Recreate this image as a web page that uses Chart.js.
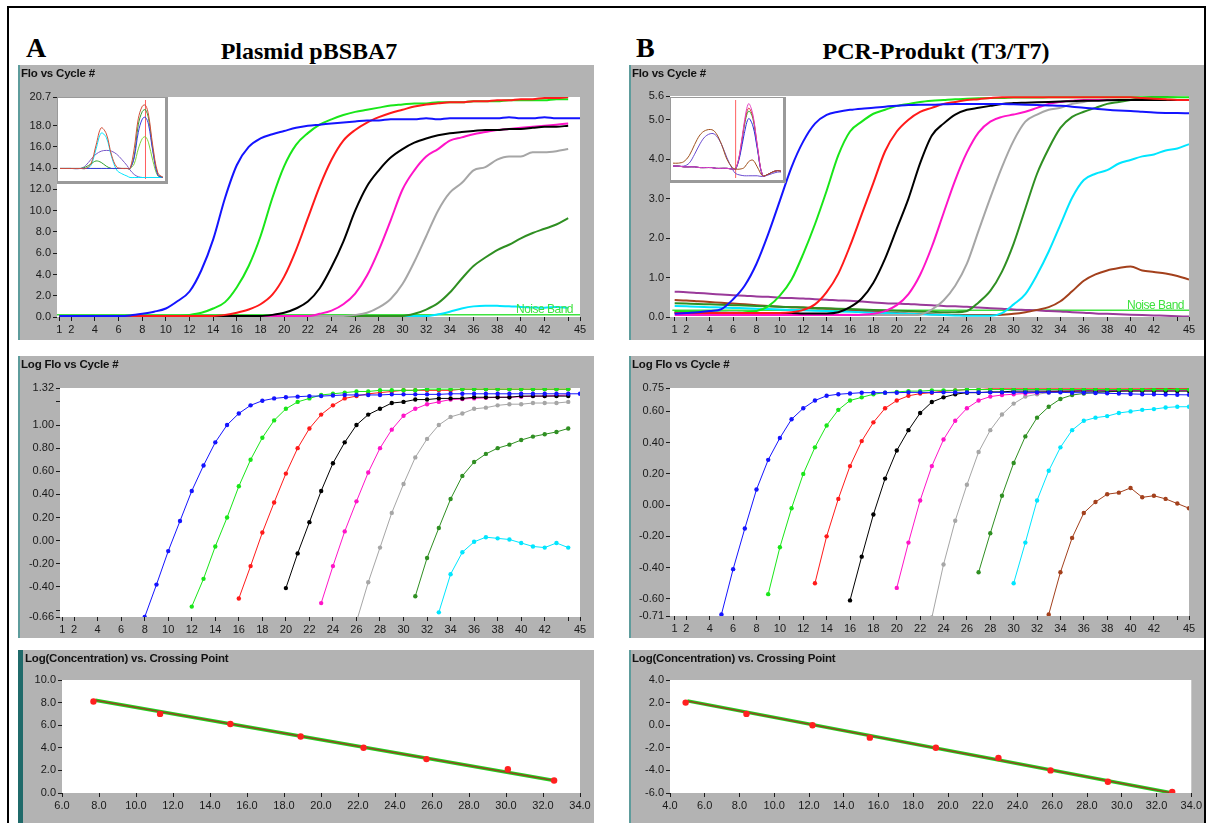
<!DOCTYPE html>
<html>
<head>
<meta charset="utf-8">
<script src="https://cdn.jsdelivr.net/npm/chart.js@4.4.1/dist/chart.umd.min.js"></script>
<style>
body { margin: 0; width: 1214px; height: 823px; overflow: hidden; background: #fff; position: relative; }
.frame { position: absolute; left: 7px; top: 6px; width: 1195px; height: 840px; border: 2px solid #000; border-bottom: none; }
.head { position: absolute; font-family: "Liberation Serif", "Times New Roman", serif; font-weight: bold; color: #000; white-space: nowrap; line-height: 28px; }
.panel { position: absolute; background: #b3b3b3; box-shadow: inset 2px 0 0 #5e9c9c; overflow: hidden; }
.panel canvas { position: absolute; left: 0; top: 0; }
.ptitle { position: absolute; left: 3px; top: 2px; font: bold 11.5px "Liberation Sans", Arial, sans-serif; color: #111; letter-spacing: -0.2px; }
.inset { position: absolute; background: #fff; border: 1px solid #9a9a9a; border-right-width: 3px; border-bottom-width: 3px; box-sizing: border-box; }
.inset canvas { position: absolute; left: 0; top: 0; }
.noise { position: absolute; color: #3fe23f; font: 12px "Liberation Sans", Arial, sans-serif; letter-spacing: -0.5px; }
</style>
</head>
<body>
<div class="frame"></div>
<div class="head" style="left:26px; top:34px; font-size:28px;">A</div>
<div class="head" style="left:159px; top:37px; width:300px; text-align:center; font-size:24px;">Plasmid pBSBA7</div>
<div class="head" style="left:636px; top:34px; font-size:28px;">B</div>
<div class="head" style="left:786px; top:37px; width:300px; text-align:center; font-size:24px;">PCR-Produkt (T3/T7)</div>

<div class="panel" style="left:18px; top:65px; width:576px; height:275px;">
  <canvas id="aFlo" width="576" height="275"></canvas>
  <div class="ptitle">Flo vs Cycle #</div>
  <div class="inset" style="left:39px; top:32px; width:111px; height:87px;"><canvas id="aMelt" width="107" height="83"></canvas></div>
</div>
<div class="noise" style="left:516px; top:302px;">Noise Band</div>

<div class="panel" style="left:18px; top:356px; width:576px; height:282px;">
  <canvas id="aLog" width="576" height="282"></canvas>
  <div class="ptitle">Log Flo vs Cycle #</div>
</div>

<div class="panel" style="left:18px; top:650px; width:576px; height:180px; box-shadow: inset 5px 0 0 #1f6a6a;">
  <canvas id="aStd" width="576" height="180"></canvas>
  <div class="ptitle" style="left:7px;">Log(Concentration) vs. Crossing Point</div>
</div>

<div class="panel" style="left:629px; top:65px; width:575px; height:275px;">
  <canvas id="bFlo" width="575" height="275"></canvas>
  <div class="ptitle">Flo vs Cycle #</div>
  <div class="inset" style="left:41px; top:32px; width:116px; height:86px;"><canvas id="bMelt" width="112" height="82"></canvas></div>
</div>
<div class="noise" style="left:1127px; top:298px;">Noise Band</div>

<div class="panel" style="left:629px; top:356px; width:575px; height:282px;">
  <canvas id="bLog" width="575" height="282"></canvas>
  <div class="ptitle">Log Flo vs Cycle #</div>
</div>

<div class="panel" style="left:629px; top:650px; width:575px; height:180px;">
  <canvas id="bStd" width="575" height="180"></canvas>
  <div class="ptitle">Log(Concentration) vs. Crossing Point</div>
</div>

<script>
const colors = {
    blue: '#1414ff', green: '#19e619', red: '#ff1a1a', black: '#000000', magenta: '#ff14c8',
    gray: '#a6a6a6', dkgreen: '#2f8f22', cyan: '#00e6ff', brown: '#a3401c', purple: '#9a3a9a'
};

const cycleTicks = [1, 2, 4, 6, 8, 10, 12, 14, 16, 18, 20, 22, 24, 26, 28, 30, 32, 34, 36, 38, 40, 42, 44, 45];

// A: Plasmid pBSBA7, fluorescence per cycle (starting at cycle 1)
const aFloBlue = [0.1, 0.1, 0.1, 0.1, 0.1, 0.1, 0.15, 0.3, 0.5, 0.8, 1.5, 2.4, 4.4, 7.3, 11.2, 14.3, 16.0, 16.8, 17.2, 17.5, 17.8, 18.0, 18.1, 18.2, 18.3, 18.4, 18.5, 18.5, 18.6, 18.6, 18.6, 18.7, 18.6, 18.7, 18.7, 18.7, 18.7, 18.7, 18.8, 18.7, 18.7, 18.8, 18.7, 18.7, 18.7];
const aFloGreen = [0.1, 0.1, 0.1, 0.1, 0.1, 0.1, 0.1, 0.1, 0.1, 0.1, 0.1, 0.2, 0.4, 0.8, 1.4, 2.8, 4.8, 7.6, 11.2, 14.2, 16.2, 17.3, 18.1, 18.6, 19.0, 19.3, 19.5, 19.7, 19.9, 20.0, 20.1, 20.1, 20.2, 20.2, 20.2, 20.3, 20.3, 20.3, 20.4, 20.4, 20.4, 20.4, 20.5, 20.5];
const aFloRed = [0.1, 0.1, 0.1, 0.1, 0.1, 0.1, 0.1, 0.1, 0.1, 0.1, 0.1, 0.1, 0.1, 0.1, 0.2, 0.4, 0.7, 1.2, 2.1, 3.8, 6.3, 9.3, 12.3, 14.8, 16.6, 17.6, 18.3, 18.8, 19.2, 19.5, 19.8, 20.0, 20.1, 20.2, 20.2, 20.3, 20.3, 20.4, 20.4, 20.5, 20.5, 20.6, 20.6, 20.7];
const aFloBlack = [0.1, 0.1, 0.1, 0.1, 0.1, 0.1, 0.1, 0.1, 0.1, 0.1, 0.1, 0.1, 0.1, 0.1, 0.1, 0.1, 0.1, 0.1, 0.2, 0.4, 0.8, 1.45, 2.7, 4.7, 7.1, 10.0, 12.3, 13.8, 15.0, 15.8, 16.4, 16.8, 17.1, 17.3, 17.4, 17.5, 17.6, 17.6, 17.7, 17.7, 17.8, 17.9, 17.9, 18.0];
const aFloMagenta = [0.1, 0.1, 0.1, 0.1, 0.1, 0.1, 0.1, 0.1, 0.1, 0.1, 0.1, 0.1, 0.1, 0.1, 0.1, 0.1, 0.1, 0.1, 0.1, 0.1, 0.1, 0.1, 0.3, 0.6, 1.2, 2.2, 3.9, 6.3, 9.1, 12.0, 13.8, 15.1, 15.8, 16.6, 16.9, 17.2, 17.4, 17.6, 17.7, 17.8, 17.9, 18.0, 18.1, 18.2];
const aFloGray = [0.1, 0.1, 0.1, 0.1, 0.1, 0.1, 0.1, 0.1, 0.1, 0.1, 0.1, 0.1, 0.1, 0.1, 0.1, 0.1, 0.1, 0.1, 0.1, 0.1, 0.1, 0.1, 0.1, 0.1, 0.1, 0.2, 0.4, 0.9, 1.7, 3.1, 5.2, 7.6, 10.0, 11.7, 12.6, 13.8, 14.1, 14.8, 15.1, 15.1, 15.5, 15.5, 15.6, 15.8];
const aFloDkGreen = [0.1, 0.1, 0.1, 0.1, 0.1, 0.1, 0.1, 0.1, 0.1, 0.1, 0.1, 0.1, 0.1, 0.1, 0.1, 0.1, 0.1, 0.1, 0.1, 0.1, 0.1, 0.1, 0.1, 0.1, 0.1, 0.1, 0.1, 0.1, 0.1, 0.1, 0.3, 0.7, 1.3, 2.3, 3.6, 4.8, 5.6, 6.3, 6.8, 7.4, 7.9, 8.3, 8.7, 9.3];
const aFloCyan = [0.1, 0.1, 0.1, 0.1, 0.1, 0.1, 0.1, 0.1, 0.1, 0.1, 0.1, 0.1, 0.1, 0.1, 0.1, 0.1, 0.1, 0.1, 0.1, 0.1, 0.1, 0.1, 0.1, 0.1, 0.1, 0.1, 0.1, 0.1, 0.1, 0.1, 0.1, 0.1, 0.25, 0.5, 0.8, 1.0, 1.07, 1.05, 1.02, 0.95, 0.9, 0.87, 0.95, 0.87];
const aNoiseLevel = 0.2;
const aFloTicks = [0, 2, 4, 6, 8, 10, 12, 14, 16, 18, 20.7];

// A: log fluorescence, each series starts at the cycle given in aLogStart
const aLogStart = { blue: 7, green: 12, red: 16, black: 20, magenta: 23, gray: 26, dkgreen: 31, cyan: 33 };
const aLogBlue = [-0.95, -0.66, -0.38, -0.09, 0.17, 0.43, 0.65, 0.85, 1.00, 1.10, 1.17, 1.21, 1.23, 1.24, 1.245, 1.25, 1.25, 1.255, 1.26, 1.26, 1.26, 1.26, 1.265, 1.265, 1.265, 1.265, 1.265, 1.27, 1.27, 1.27, 1.27, 1.27, 1.27, 1.27, 1.27, 1.27, 1.27, 1.27, 1.27];
const aLogGreen = [-0.57, -0.33, -0.05, 0.20, 0.47, 0.70, 0.89, 1.04, 1.14, 1.20, 1.23, 1.26, 1.27, 1.28, 1.29, 1.29, 1.30, 1.30, 1.30, 1.30, 1.31, 1.31, 1.31, 1.31, 1.31, 1.31, 1.31, 1.31, 1.31, 1.31, 1.31, 1.31, 1.31];
const aLogRed = [-0.50, -0.22, 0.07, 0.33, 0.58, 0.80, 0.97, 1.09, 1.17, 1.23, 1.25, 1.27, 1.28, 1.29, 1.30, 1.30, 1.30, 1.30, 1.30, 1.31, 1.31, 1.31, 1.31, 1.31, 1.31, 1.31, 1.31, 1.31, 1.31];
const aLogBlack = [-0.41, -0.11, 0.16, 0.43, 0.67, 0.85, 1.00, 1.09, 1.14, 1.19, 1.20, 1.22, 1.22, 1.23, 1.23, 1.23, 1.24, 1.24, 1.24, 1.24, 1.25, 1.25, 1.25, 1.25, 1.25];
const aLogMagenta = [-0.54, -0.22, 0.08, 0.34, 0.59, 0.80, 0.96, 1.08, 1.14, 1.18, 1.20, 1.22, 1.225, 1.23, 1.235, 1.24, 1.24, 1.245, 1.25, 1.25, 1.255, 1.26];
const aLogGray = [-0.70, -0.36, -0.06, 0.24, 0.49, 0.72, 0.88, 1.00, 1.07, 1.10, 1.14, 1.15, 1.17, 1.18, 1.18, 1.19, 1.19, 1.19, 1.20];
const aLogDkGreen = [-0.48, -0.15, 0.11, 0.36, 0.56, 0.68, 0.75, 0.80, 0.83, 0.87, 0.90, 0.92, 0.94, 0.97];
const aLogCyan = [-0.62, -0.29, -0.10, -0.01, 0.03, 0.02, 0.01, -0.02, -0.05, -0.06, -0.02, -0.06];
const aLogTicks = [-0.66, -0.6, -0.4, -0.2, 0, 0.2, 0.4, 0.6, 0.8, 1.0, 1.2, 1.32];

// A: standard curve
const aCrossPoint = [7.7, 11.3, 15.1, 18.9, 22.3, 25.7, 30.1, 32.6];
const aLogConc = [8.1, 7.0, 6.1, 5.0, 4.0, 3.0, 2.1, 1.1];
const aFitX = [7.8, 32.6];
const aFitY = [8.2, 1.1];

// B: PCR product, fluorescence per cycle (starting at cycle 1)
const bFloBlue = [0.08, 0.1, 0.12, 0.15, 0.2, 0.45, 0.8, 1.35, 2.1, 2.95, 3.8, 4.45, 4.9, 5.12, 5.2, 5.25, 5.28, 5.3, 5.33, 5.35, 5.37, 5.38, 5.38, 5.39, 5.4, 5.4, 5.4, 5.4, 5.4, 5.39, 5.38, 5.37, 5.36, 5.35, 5.33, 5.3, 5.28, 5.25, 5.23, 5.22, 5.2, 5.18, 5.17, 5.17, 5.16];
const bFloGreen = [0.15, 0.14, 0.13, 0.12, 0.11, 0.1, 0.12, 0.15, 0.27, 0.54, 0.95, 1.6, 2.35, 3.2, 4.1, 4.7, 4.95, 5.15, 5.25, 5.35, 5.4, 5.45, 5.48, 5.5, 5.52, 5.53, 5.54, 5.55, 5.55, 5.56, 5.56, 5.56, 5.57, 5.57, 5.57, 5.57, 5.57, 5.57, 5.57, 5.57, 5.57, 5.57, 5.57, 5.57, 5.57];
const bFloRed = [0.1, 0.1, 0.1, 0.1, 0.1, 0.1, 0.1, 0.1, 0.1, 0.1, 0.12, 0.18, 0.32, 0.63, 1.1, 1.8, 2.6, 3.4, 4.2, 4.7, 5.0, 5.2, 5.3, 5.4, 5.45, 5.5, 5.52, 5.55, 5.57, 5.57, 5.57, 5.57, 5.57, 5.57, 5.57, 5.57, 5.57, 5.57, 5.57, 5.57, 5.55, 5.53, 5.52, 5.5, 5.5];
const bFloBlack = [0.12, 0.12, 0.12, 0.11, 0.11, 0.11, 0.1, 0.1, 0.1, 0.1, 0.1, 0.09, 0.09, 0.09, 0.12, 0.25, 0.47, 0.87, 1.48, 2.24, 3.0, 3.9, 4.6, 4.9, 5.13, 5.25, 5.3, 5.35, 5.4, 5.42, 5.43, 5.44, 5.45, 5.46, 5.47, 5.48, 5.48, 5.49, 5.5, 5.5, 5.5, 5.5, 5.5, 5.5, 5.5];
const bFloMagenta = [0.05, 0.05, 0.05, 0.05, 0.05, 0.05, 0.05, 0.05, 0.05, 0.05, 0.05, 0.05, 0.05, 0.05, 0.05, 0.05, 0.06, 0.08, 0.15, 0.3, 0.58, 1.07, 1.78, 2.63, 3.47, 4.17, 4.68, 4.95, 5.07, 5.13, 5.2, 5.3, 5.4, 5.45, 5.48, 5.5, 5.5, 5.5, 5.5, 5.5, 5.5, 5.5, 5.5, 5.5, 5.5];
const bFloGray = [0.1, 0.1, 0.1, 0.09, 0.09, 0.09, 0.08, 0.08, 0.08, 0.07, 0.07, 0.07, 0.06, 0.06, 0.06, 0.06, 0.05, 0.05, 0.05, 0.05, 0.05, 0.06, 0.19, 0.42, 0.79, 1.35, 2.19, 3.02, 3.8, 4.47, 4.95, 5.13, 5.25, 5.3, 5.4, 5.45, 5.5, 5.5, 5.5, 5.5, 5.5, 5.5, 5.5, 5.5, 5.5];
const bFloDkGreen = [0.35, 0.34, 0.33, 0.32, 0.31, 0.3, 0.29, 0.28, 0.27, 0.26, 0.25, 0.24, 0.23, 0.22, 0.21, 0.2, 0.19, 0.18, 0.17, 0.16, 0.15, 0.14, 0.13, 0.12, 0.12, 0.15, 0.37, 0.66, 1.15, 1.86, 2.75, 3.63, 4.27, 4.79, 5.07, 5.2, 5.3, 5.4, 5.45, 5.5, 5.55, 5.58, 5.6, 5.62, 5.63];
const bFloCyan = [0.28, 0.27, 0.26, 0.25, 0.24, 0.23, 0.22, 0.21, 0.2, 0.19, 0.18, 0.17, 0.16, 0.15, 0.14, 0.13, 0.12, 0.11, 0.1, 0.09, 0.08, 0.07, 0.06, 0.05, 0.04, 0.03, 0.03, 0.03, 0.1, 0.32, 0.58, 1.07, 1.66, 2.34, 3.02, 3.47, 3.63, 3.72, 3.89, 3.98, 4.07, 4.12, 4.22, 4.27, 4.38];
const bFloBrown = [0.43, 0.42, 0.4, 0.38, 0.36, 0.34, 0.32, 0.3, 0.28, 0.26, 0.25, 0.24, 0.22, 0.21, 0.2, 0.18, 0.16, 0.14, 0.12, 0.1, 0.09, 0.08, 0.07, 0.06, 0.05, 0.05, 0.05, 0.05, 0.06, 0.08, 0.12, 0.18, 0.25, 0.4, 0.65, 0.92, 1.08, 1.18, 1.24, 1.28, 1.18, 1.14, 1.1, 1.04, 0.95];
const bFloPurple = [0.64, 0.63, 0.61, 0.59, 0.57, 0.55, 0.54, 0.52, 0.51, 0.49, 0.48, 0.47, 0.45, 0.44, 0.42, 0.41, 0.39, 0.37, 0.35, 0.34, 0.33, 0.31, 0.3, 0.28, 0.27, 0.26, 0.24, 0.22, 0.21, 0.19, 0.18, 0.17, 0.15, 0.14, 0.12, 0.11, 0.09, 0.08, 0.07, 0.06, 0.05, 0.04, 0.03, 0.02, 0.01];
const bNoiseLevel = 0.17;
const bFloTicks = [0, 1, 2, 3, 4, 5, 5.6];

// B: log fluorescence
const bLogStart = { blue: 5, green: 9, red: 13, black: 16, magenta: 20, gray: 23, dkgreen: 27, cyan: 30, brown: 33 };
const bLogBlue = [-0.70, -0.41, -0.15, 0.10, 0.29, 0.43, 0.55, 0.62, 0.67, 0.70, 0.71, 0.715, 0.72, 0.72, 0.72, 0.72, 0.722, 0.722, 0.722, 0.722, 0.722, 0.722, 0.722, 0.722, 0.722, 0.722, 0.722, 0.722, 0.722, 0.722, 0.72, 0.72, 0.718, 0.716, 0.714, 0.712, 0.71, 0.71, 0.708, 0.707, 0.706];
const bLogGreen = [-0.57, -0.27, -0.02, 0.20, 0.37, 0.51, 0.61, 0.67, 0.69, 0.71, 0.72, 0.725, 0.73, 0.73, 0.735, 0.735, 0.735, 0.74, 0.74, 0.74, 0.74, 0.74, 0.74, 0.74, 0.74, 0.74, 0.74, 0.74, 0.74, 0.74, 0.74, 0.74, 0.74, 0.74, 0.74, 0.74, 0.74];
const bLogRed = [-0.50, -0.20, 0.04, 0.25, 0.41, 0.53, 0.62, 0.67, 0.70, 0.714, 0.72, 0.73, 0.735, 0.74, 0.74, 0.745, 0.745, 0.745, 0.745, 0.745, 0.745, 0.745, 0.745, 0.745, 0.745, 0.745, 0.745, 0.745, 0.745, 0.745, 0.745, 0.745, 0.745];
const bLogBlack = [-0.61, -0.33, -0.06, 0.17, 0.35, 0.48, 0.59, 0.66, 0.69, 0.71, 0.72, 0.72, 0.725, 0.725, 0.73, 0.73, 0.73, 0.73, 0.73, 0.73, 0.73, 0.73, 0.73, 0.73, 0.73, 0.73, 0.73, 0.73, 0.73, 0.73];
const bLogMagenta = [-0.53, -0.24, 0.03, 0.25, 0.42, 0.54, 0.62, 0.67, 0.695, 0.705, 0.71, 0.715, 0.72, 0.725, 0.73, 0.73, 0.735, 0.735, 0.735, 0.735, 0.735, 0.735, 0.735, 0.735, 0.735, 0.735];
const bLogGray = [-0.72, -0.38, -0.10, 0.13, 0.34, 0.48, 0.58, 0.65, 0.695, 0.71, 0.72, 0.725, 0.73, 0.735, 0.74, 0.74, 0.74, 0.74, 0.74, 0.74, 0.74, 0.74, 0.74];
const bLogDkGreen = [-0.43, -0.18, 0.06, 0.27, 0.44, 0.56, 0.63, 0.68, 0.705, 0.715, 0.72, 0.725, 0.73, 0.735, 0.74, 0.745, 0.745, 0.75, 0.75];
const bLogCyan = [-0.50, -0.24, 0.03, 0.22, 0.37, 0.48, 0.54, 0.56, 0.57, 0.59, 0.60, 0.61, 0.615, 0.625, 0.63, 0.63];
const bLogBrown = [-0.70, -0.43, -0.21, -0.05, 0.02, 0.07, 0.08, 0.11, 0.05, 0.06, 0.04, 0.01, -0.02];
const bLogTicks = [-0.71, -0.6, -0.4, -0.2, 0, 0.2, 0.4, 0.6, 0.75];

// B: standard curve
const bCrossPoint = [4.9, 8.4, 12.2, 15.5, 19.3, 22.9, 25.9, 29.2, 32.9];
const bLogConc = [2.0, 1.0, 0.0, -1.1, -2.0, -2.9, -4.0, -5.0, -5.9];
const bFitX = [5.0, 32.9];
const bFitY = [2.15, -6.0];

// melting curve insets (arbitrary units)
const meltAX = [0, 10, 20, 25, 30, 35, 40, 45, 50, 55, 60, 65, 68, 72, 76, 80, 83, 86, 90, 95, 100];
const meltARed = [14, 14, 14, 14, 20, 45, 68, 60, 32, 16, 14, 14, 14, 40, 80, 97, 98, 85, 45, 8, 2];
const meltACyan = [14, 14, 14, 14, 18, 40, 61, 55, 30, 12, 7, 4, 2, 2, 2, 2, 2, 2, 2, 2, 2];
const meltAPurple = [14, 14, 14, 18, 26, 33, 37, 38, 37, 33, 26, 18, 12, 6, 3, 2, 2, 2, 2, 2, 2];
const meltAGreen = [14, 14, 14, 16, 20, 24, 22, 17, 14, 14, 14, 14, 14, 30, 72, 90, 92, 80, 40, 6, 2];
const meltABlue = [14, 14, 14, 14, 14, 14, 14, 14, 14, 14, 14, 14, 14, 28, 62, 80, 82, 72, 38, 5, 2];
const meltALime = [14, 14, 14, 14, 14, 14, 14, 14, 14, 14, 14, 14, 14, 20, 40, 54, 56, 48, 25, 4, 2];
const meltAMarker = 83;

const meltBX = [0, 5, 10, 15, 20, 25, 30, 36, 40, 45, 50, 55, 58, 62, 66, 70, 74, 78, 83, 88, 92, 97, 100];
const meltBBrown = [20, 20, 22, 30, 45, 58, 64, 65, 60, 45, 25, 14, 12, 12, 14, 22, 24, 15, 3, 5, 8, 10, 9];
const meltBPurple = [16, 16, 16, 20, 32, 46, 56, 60, 57, 45, 27, 12, 6, 4, 3, 3, 3, 3, 2, 4, 6, 8, 8];
const meltBBlue = [16, 16, 15, 15, 15, 14, 14, 14, 13, 13, 13, 12, 12, 30, 60, 80, 70, 40, 3, 5, 8, 10, 9];
const meltBMagenta = [16, 16, 15, 15, 15, 14, 14, 14, 13, 13, 13, 12, 12, 35, 75, 100, 85, 45, 3, 5, 8, 10, 9];
const meltBGreen = [16, 16, 15, 15, 15, 14, 14, 14, 13, 13, 13, 12, 12, 33, 70, 90, 80, 42, 3, 5, 8, 10, 9];
const meltBRed = [16, 16, 15, 15, 15, 14, 14, 14, 13, 13, 13, 12, 12, 34, 72, 94, 82, 44, 3, 5, 8, 10, 9];
const meltBMarker = 58;

function fromCycle(start, values) {
    return values.map((v, i) => ({ x: start + i, y: v }));
}

function pairs(xs, ys) {
    return xs.map((x, i) => ({ x: x, y: ys[i] }));
}

function curve(data, color) {
    return { data: data, borderColor: color, borderWidth: 2, pointRadius: 0, cubicInterpolationMode: 'monotone' };
}

function dotted(data, color) {
    return { data: data, borderColor: color, backgroundColor: color, borderWidth: 1, pointRadius: 2.2, pointBorderWidth: 0, tension: 0 };
}

const whiteArea = {
    id: 'whiteArea',
    beforeDraw(chart) {
        const a = chart.chartArea;
        const g = chart.ctx;
        g.save();
        g.fillStyle = '#ffffff';
        g.fillRect(a.left, a.top, a.right - a.left, a.bottom - a.top);
        g.restore();
    }
};

function axis(min, max, ticks, fmt, size, isX) {
    return {
        type: 'linear',
        min: min,
        max: max,
        afterBuildTicks: s => { s.ticks = ticks.map(v => ({ value: v })); },
        afterFit: s => { if (isX) s.height = size; else s.width = size; },
        border: { display: false },
        grid: { drawOnChartArea: false, tickLength: 4, color: '#1a1a1a' },
        ticks: {
            autoSkip: false, maxRotation: 0, padding: 2, color: '#1a1a1a',
            font: { size: 11, family: 'Liberation Sans' },
            callback: fmt
        }
    };
}

const cycleLabel = v => (v === 44 ? '' : String(v));
const oneDec = v => v.toFixed(1);
const twoDec = v => v.toFixed(2);

function plot(id, datasets, x, y, top, right) {
    new Chart(document.getElementById(id), {
        type: 'line',
        data: { datasets: datasets },
        options: {
            responsive: false,
            animation: false,
            layout: { padding: { left: 0, top: top, right: right, bottom: 0 } },
            plugins: { legend: { display: false }, tooltip: { enabled: false } },
            scales: { x: x, y: y }
        },
        plugins: [whiteArea]
    });
}

function melt(id, xs, series, marker, markerColor) {
    const sets = series.map(s => ({ data: pairs(xs, s[0]), borderColor: s[1], borderWidth: 1, pointRadius: 0, tension: 0.35 }));
    sets.push({ data: [{ x: marker, y: 0 }, { x: marker, y: 105 }], borderColor: markerColor, borderWidth: 1, pointRadius: 0 });
    new Chart(document.getElementById(id), {
        type: 'line',
        data: { datasets: sets },
        options: {
            responsive: false,
            animation: false,
            layout: { padding: 2 },
            plugins: { legend: { display: false }, tooltip: { enabled: false } },
            scales: {
                x: { type: 'linear', min: 0, max: 100, display: false },
                y: { min: 0, max: 105, display: false }
            }
        }
    });
}

// standard curve: dots on top, thin brown fit over a wider green one
function standard(xs, ys, fitX, fitY) {
    return [
        { data: pairs(xs, ys), showLine: false, pointRadius: 3.2, pointBorderWidth: 0, backgroundColor: '#ff2020' },
        { data: pairs(fitX, fitY), borderColor: '#8d4a1f', borderWidth: 1.5, pointRadius: 0 },
        { data: pairs(fitX, fitY), borderColor: '#21d321', borderWidth: 3.5, pointRadius: 0 }
    ];
}

// A panels
plot('aFlo', [
    curve(fromCycle(1, aFloBlue), colors.blue),
    curve(fromCycle(1, aFloRed), colors.red),
    curve(fromCycle(1, aFloGreen), colors.green),
    curve(fromCycle(1, aFloBlack), colors.black),
    curve(fromCycle(1, aFloMagenta), colors.magenta),
    curve(fromCycle(1, aFloGray), colors.gray),
    curve(fromCycle(1, aFloDkGreen), colors.dkgreen),
    curve(fromCycle(1, aFloCyan), colors.cyan),
    { data: [{ x: 0.8, y: aNoiseLevel }, { x: 45, y: aNoiseLevel }], borderColor: '#3fe23f', borderWidth: 1.5, pointRadius: 0 }
], axis(0.8, 45, cycleTicks, cycleLabel, 23, true), axis(0, 20.7, aFloTicks, oneDec, 39, false), 32, 14);

plot('aLog', [
    dotted(fromCycle(aLogStart.blue, aLogBlue), colors.blue),
    dotted(fromCycle(aLogStart.green, aLogGreen), colors.green),
    dotted(fromCycle(aLogStart.red, aLogRed), colors.red),
    dotted(fromCycle(aLogStart.black, aLogBlack), colors.black),
    dotted(fromCycle(aLogStart.magenta, aLogMagenta), colors.magenta),
    dotted(fromCycle(aLogStart.gray, aLogGray), colors.gray),
    dotted(fromCycle(aLogStart.dkgreen, aLogDkGreen), colors.dkgreen),
    dotted(fromCycle(aLogStart.cyan, aLogCyan), colors.cyan)
], axis(0.8, 45, cycleTicks, cycleLabel, 21, true),
   axis(-0.66, 1.32, aLogTicks, v => ((v === -0.6 || v === 1.2) ? '' : v.toFixed(2)), 42, false), 32, 14);

plot('aStd', standard(aCrossPoint, aLogConc, aFitX, aFitY),
   axis(6, 34, [6, 8, 10, 12, 14, 16, 18, 20, 22, 24, 26, 28, 30, 32, 34], oneDec, 37, true),
   axis(0, 10, [0, 2, 4, 6, 8, 10], oneDec, 44, false), 30, 14);

// B panels
plot('bFlo', [
    curve(fromCycle(1, bFloBlue), colors.blue),
    curve(fromCycle(1, bFloRed), colors.red),
    curve(fromCycle(1, bFloGreen), colors.green),
    curve(fromCycle(1, bFloBlack), colors.black),
    curve(fromCycle(1, bFloMagenta), colors.magenta),
    curve(fromCycle(1, bFloGray), colors.gray),
    curve(fromCycle(1, bFloDkGreen), colors.dkgreen),
    curve(fromCycle(1, bFloCyan), colors.cyan),
    curve(fromCycle(1, bFloBrown), colors.brown),
    curve(fromCycle(1, bFloPurple), colors.purple),
    { data: [{ x: 0.8, y: bNoiseLevel }, { x: 45, y: bNoiseLevel }], borderColor: '#3fe23f', borderWidth: 1.5, pointRadius: 0 }
], axis(0.6, 45, cycleTicks, cycleLabel, 23, true), axis(0, 5.6, bFloTicks, oneDec, 41, false), 31, 15);

plot('bLog', [
    dotted(fromCycle(bLogStart.blue, bLogBlue), colors.blue),
    dotted(fromCycle(bLogStart.green, bLogGreen), colors.green),
    dotted(fromCycle(bLogStart.red, bLogRed), colors.red),
    dotted(fromCycle(bLogStart.black, bLogBlack), colors.black),
    dotted(fromCycle(bLogStart.magenta, bLogMagenta), colors.magenta),
    dotted(fromCycle(bLogStart.gray, bLogGray), colors.gray),
    dotted(fromCycle(bLogStart.dkgreen, bLogDkGreen), colors.dkgreen),
    dotted(fromCycle(bLogStart.cyan, bLogCyan), colors.cyan),
    dotted(fromCycle(bLogStart.brown, bLogBrown), colors.brown)
], axis(0.6, 45, cycleTicks, cycleLabel, 22, true), axis(-0.71, 0.75, bLogTicks, twoDec, 41, false), 32, 15);

plot('bStd', standard(bCrossPoint, bLogConc, bFitX, bFitY),
   axis(4, 34, [4, 6, 8, 10, 12, 14, 16, 18, 20, 22, 24, 26, 28, 30, 32, 34], oneDec, 37, true),
   axis(-6, 4, [-6, -4, -2, 0, 2, 4], oneDec, 41, false), 30, 12);

// melting curve insets
melt('aMelt', meltAX, [
    [meltARed, '#d0503a'], [meltABlue, '#3a3ae0'], [meltAGreen, '#2fa02f'], [meltACyan, colors.cyan],
    [meltAPurple, '#7a5ac8'], [meltALime, '#7fd23a']
], meltAMarker, '#ff6060');
melt('bMelt', meltBX, [
    [meltBBrown, '#a0501c'], [meltBMagenta, '#e040c0'], [meltBBlue, '#2a2ae0'], [meltBRed, '#e03030'],
    [meltBGreen, '#2fb02f'], [meltBPurple, '#6a4ad0']
], meltBMarker, '#ff6060');
</script>
</body>
</html>
